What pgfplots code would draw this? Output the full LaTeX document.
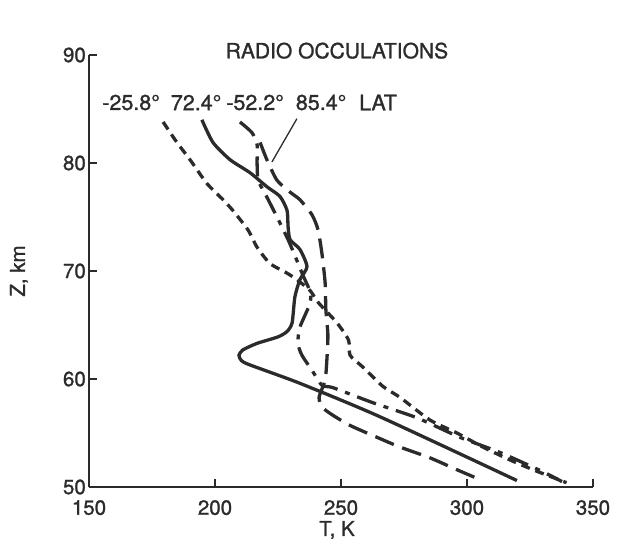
\documentclass[border=0pt]{standalone}
\usepackage{fontspec}
\setmainfont{TeX Gyre Heros}[FakeBold=1.2]
\usepackage{pgfplots}
\pgfplotsset{compat=1.18}
\definecolor{ink}{HTML}{2B2B2B}

% Temperature profiles T(Z) from radio occultations, one table per latitude
\pgfplotstableread{
T Z
179.4 83.8
184.9 81.9
190.1 80.3
196.8 78.1
203.2 76.6
207.1 75.6
213.1 73.8
216.7 72.2
221.8 70.7
228.6 69.8
232.5 69.2
237.7 68.2
240.9 67.1
248.4 65.2
253.0 63.6
253.6 62.2
258.7 61.1
266.7 59.3
273.4 58.3
285.3 56.2
296.0 55.0
306.3 53.7
317.1 52.5
326.2 51.6
331.7 51.1
339.5 50.4
}\latA

\pgfplotstableread{
T Z
194.8 84.0
199.2 81.9
206.0 80.3
213.9 79.1
220.6 77.8
225.8 76.9
228.6 75.6
229.0 74.1
229.8 72.9
233.7 72.0
236.5 70.4
233.7 69.2
231.7 67.6
230.6 65.2
228.6 64.4
225.0 63.9
216.7 63.3
211.1 62.7
209.5 62.2
210.5 61.7
213.9 61.3
233.7 59.6
265.5 56.5
319.8 50.6
}\latB

\pgfplotstableread{
T Z
209.9 83.8
214.7 82.8
216.7 81.7
216.7 80.0
217.1 78.4
219.8 77.2
224.6 75.0
229.0 72.9
232.1 71.2
234.9 69.6
237.7 68.1
237.7 67.0
233.7 64.8
232.9 63.3
234.5 62.2
238.5 60.8
242.5 59.4
246.8 59.2
262.7 57.8
280.2 56.4
297.2 54.6
313.1 53.2
330.2 51.4
337.7 50.5
}\latC

\pgfplotstableread{
T Z
217.9 81.9
220.6 80.3
224.6 78.4
229.8 77.3
233.7 76.6
238.5 75.2
240.9 73.8
242.5 71.5
243.7 68.9
244.0 66.4
244.8 64.1
244.4 61.8
243.7 59.9
241.3 58.3
242.5 57.4
246.4 56.7
253.6 55.7
264.3 54.6
273.4 53.7
285.3 52.7
296.0 51.6
304.0 50.8
}\latD

\begin{document}
\begin{tikzpicture}
\begin{axis}[
  scale only axis, width=504bp, height=432bp,
  xmin=150, xmax=350, ymin=50, ymax=90,
  axis x line*=bottom, axis y line*=left,
  axis line style={ink, line width=1.8bp},
  tick align=inside, major tick length=8bp,
  tick style={ink, line width=1.6bp},
  xtick={150,200,...,350}, ytick={50,60,...,90},
  /pgf/number format/assume math mode=true,
  ticklabel style={font=\fontsize{20.5bp}{20.5bp}\selectfont, text=ink, inner sep=1bp},
  xticklabel style={yshift=-12bp},
  yticklabel style={xshift=-2bp},
  xlabel={T, K}, ylabel={Z, km},
  xlabel style={at={(axis description cs:0.492,-0.0995)}, anchor=center,
    font=\fontsize{20.5bp}{20.5bp}\selectfont, text=ink},
  ylabel style={at={(axis description cs:-0.139,0.5)}, anchor=center,
    font=\fontsize{20.5bp}{20.5bp}\selectfont, text=ink},
  clip=false,
]
\addplot[ink, line width=3.3bp, smooth, tension=0.4,
  dash pattern=on 9bp off 6bp] table[x=T, y=Z] {\latA};
\addplot[ink, line width=3.3bp, smooth, tension=0.4] table[x=T, y=Z] {\latB};
\addplot[ink, line width=3.3bp, smooth, tension=0.4,
  dash pattern=on 20bp off 8bp on 5bp off 8bp] table[x=T, y=Z] {\latC};
\addplot[ink, line width=3.3bp, smooth, tension=0.4,
  dash pattern=on 20bp off 9bp] table[x=T, y=Z] {\latD};

\node[font=\fontsize{21bp}{21bp}\selectfont, text=ink] at (axis cs:248.4,90.4) {RADIO OCCULATIONS};
\begin{scope}[every node/.style={font=\fontsize{21.5bp}{21.5bp}\selectfont, text=ink}]
  \node at (axis cs:166.7,85.6) {-25.8°};
  \node at (axis cs:192.5,85.6) {72.4°};
  \node at (axis cs:215.9,85.6) {-52.2°};
  \node at (axis cs:242.1,85.6) {85.4°};
  \node at (axis cs:264.7,85.6) {LAT};
\end{scope}
\draw[ink, line width=1.3bp] (axis cs:232.5,84.1) -- (axis cs:222.6,80.1);
\end{axis}
\pgfresetboundingbox
\path[use as bounding box] (-89bp,-58bp) rectangle (540bp,487bp);
\end{tikzpicture}
\end{document}
